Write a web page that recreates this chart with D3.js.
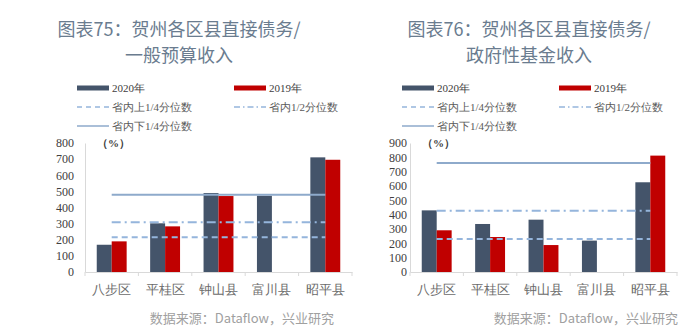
<!DOCTYPE html>
<html><head><meta charset="utf-8">
<script src="https://cdn.jsdelivr.net/npm/d3@7"></script>
<style>
html,body{margin:0;padding:0;background:#fff;}
svg{display:block;}
</style></head>
<body><svg id="c" width="700" height="332"></svg>
<script>
// ---- data ----
const categories = ["八步区","平桂区","钟山县","富川县","昭平县"];
const seriesNames = ["2020年","2019年"];
const legendLineNames = ["省内上1/4分位数","省内1/2分位数","省内下1/4分位数"];

const leftTitle = ["图表75：贺州各区县直接债务/","一般预算收入"];
const left2020 = [169, 302, 490, 473, 711];
const left2019 = [190, 283, 471, null, 696];
const leftUpperQ = 215;   // 省内上1/4分位数
const leftMedian = 308;   // 省内1/2分位数
const leftLowerQ = 479;   // 省内下1/4分位数
const leftTicks = [0,100,200,300,400,500,600,700,800];

const rightTitle = ["图表76：贺州各区县直接债务/","政府性基金收入"];
const right2020 = [430, 335, 365, 219, 626];
const right2019 = [291, 244, 188, null, 812];
const rightUpperQ = 230;
const rightMedian = 428;
const rightLowerQ = 760;
const rightTicks = [0,100,200,300,400,500,600,700,800,900];

const sourceText = "数据来源：Dataflow，兴业研究";

// ---- drawing ----
const svg = d3.select("#c");
const C2020 = "#44546a", C2019 = "#c00000", CLINE = "#8eaacb", CDASH = "#95b5dc";
const serif = "'Liberation Serif', 'DejaVu Serif', serif";
const sans = "'Noto Sans CJK SC', 'Noto Sans', sans-serif";

function drawChart(o){
  const g = svg.append("g");
  // title
  g.selectAll("text.title").data(o.title).join("text")
    .attr("x", o.titleX).attr("y",(d,i)=> i===0?36:62)
    .attr("text-anchor","middle").style("font-family",sans)
    .style("font-size","18px").attr("fill","#6a7c8f").text(d=>d);

  // legend
  const lx1 = o.legX, lx2 = o.legX2, sw = 32;
  const lg = g.append("g");
  const items = [
    {x:lx1,y:88,type:"bar",c:C2020,t:seriesNames[0],tc:"#404040"},
    {x:lx2,y:88,type:"bar",c:C2019,t:seriesNames[1],tc:"#404040"},
    {x:lx1,y:107,type:"dash",c:CDASH,t:legendLineNames[0],tc:"#595959"},
    {x:lx2,y:107,type:"dashdot",c:CDASH,t:legendLineNames[1],tc:"#595959"},
    {x:lx1,y:126,type:"solid",c:CLINE,t:legendLineNames[2],tc:"#595959"}
  ];
  items.forEach(it=>{
    if(it.type==="bar"){
      lg.append("rect").attr("x",it.x).attr("y",it.y-2.5).attr("width",sw).attr("height",5).attr("fill",it.c);
    } else {
      lg.append("line").attr("x1",it.x).attr("x2",it.x+sw).attr("y1",it.y).attr("y2",it.y)
        .attr("stroke",it.c).attr("stroke-width",1.5)
        .attr("stroke-dasharray", it.type==="dash"?"5,4":it.type==="dashdot"?"6,3,1.5,3":null);
    }
    lg.append("text").attr("x",it.x+sw+3).attr("y",it.y+4).attr("fill",it.tc)
      .style("font-family",serif).style("font-size","11px").text(it.t);
  });

  // scales
  const x = d3.scaleBand().domain(categories).range([o.x0,o.x1]).paddingInner(0.44).paddingOuter(0.22);
  const xs = d3.scaleBand().domain(seriesNames).range([0,x.bandwidth()]);
  const y = d3.scaleLinear().domain([0,o.ymax]).range([272,143]);

  // axes
  const ya = g.append("g").attr("transform",`translate(${o.x0},0)`)
    .call(d3.axisLeft(y).tickValues(o.ticks).tickSize(0).tickPadding(o.tickPad));
  ya.select(".domain").attr("stroke","#d9d9d9");
  ya.selectAll("text").style("font-family",serif).style("font-size","12px").attr("fill","#404040");

  g.append("text").attr("x",o.x0+12).attr("y",147).style("font-family",serif)
    .style("font-size","11px").style("font-weight","bold").attr("fill","#404040").text("（%）");

  // bars
  const rows = categories.map((c,i)=>({c, v:[o.s2020[i],o.s2019[i]]}));
  const bg = g.selectAll("g.cat").data(rows).join("g").attr("class","cat").attr("transform",d=>`translate(${x(d.c)},0)`);
  bg.selectAll("rect").data(d=>d.v.map((v,j)=>({k:seriesNames[j],v})).filter(e=>e.v!=null)).join("rect")
    .attr("x",e=>xs(e.k)).attr("width",xs.bandwidth())
    .attr("y",e=>y(e.v)).attr("height",e=>y(0)-y(e.v))
    .attr("fill",e=>e.k===seriesNames[0]?C2020:C2019);

  // x axis
  const xa = g.append("g").attr("transform","translate(0,272)")
    .call(d3.axisBottom(x).tickSize(0).tickPadding(13));
  xa.select(".domain").attr("stroke","#d9d9d9");
  xa.selectAll("text").style("font-family",serif).style("font-size","13px").attr("fill","#6b6b6b");
  g.selectAll("line.xt").data(d3.range(categories.length+1)).join("line").attr("class","xt")
    .attr("x1",i=>o.x0+i*x.step()).attr("x2",i=>o.x0+i*x.step())
    .attr("y1",272).attr("y2",276).attr("stroke","#d9d9d9");

  // reference lines
  const xa0 = x(categories[0])+x.bandwidth()/2, xa1 = x(categories[categories.length-1])+x.bandwidth()/2;
  [{v:o.upperQ,d:"6,4",c:CDASH},{v:o.median,d:"9,4,2,4",c:CDASH},{v:o.lowerQ,d:null,c:CLINE}].forEach(r=>{
    g.append("line").attr("x1",xa0).attr("x2",xa1).attr("y1",y(r.v)).attr("y2",y(r.v))
      .attr("stroke",r.c).attr("stroke-width",2).attr("stroke-dasharray",r.d);
  });

  // source
  g.append("text").attr("x",o.srcX).attr("y",323).attr("text-anchor","end")
    .style("font-family",sans).style("font-size","13px").attr("fill","#a0a0a0").text(sourceText);
}

drawChart({title:leftTitle,titleX:179,legX:77,legX2:234,x0:85,x1:352,ymax:800,ticks:leftTicks,tickPad:11,
  s2020:left2020,s2019:left2019,upperQ:leftUpperQ,median:leftMedian,lowerQ:leftLowerQ,srcX:334});
drawChart({title:rightTitle,titleX:529,legX:402,legX2:559,x0:410,x1:677,ymax:900,ticks:rightTicks,tickPad:3,
  s2020:right2020,s2019:right2019,upperQ:rightUpperQ,median:rightMedian,lowerQ:rightLowerQ,srcX:678});
</script></body></html>
